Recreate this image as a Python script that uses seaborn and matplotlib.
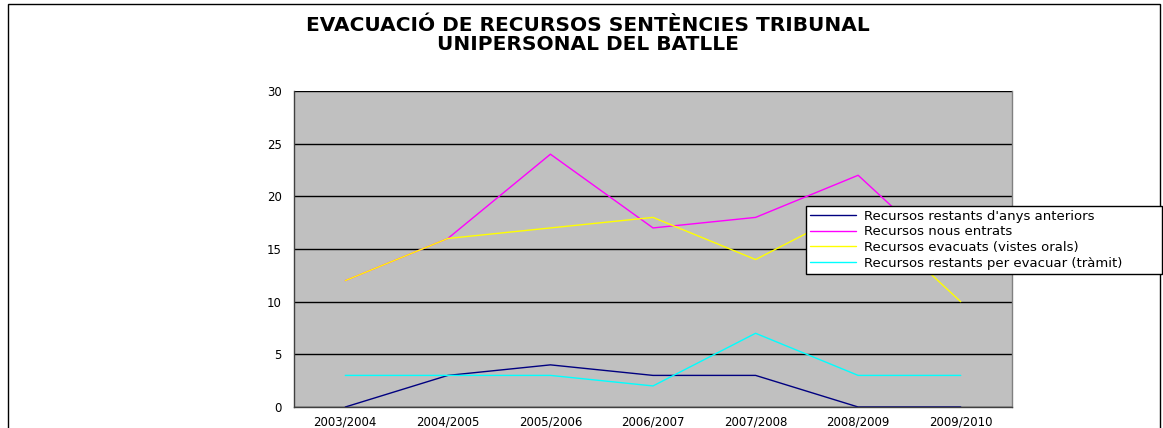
import pandas as pd
import matplotlib.pyplot as plt
import seaborn as sns

years = ["2003/2004", "2004/2005", "2005/2006", "2006/2007", "2007/2008", "2008/2009", "2009/2010"]
restants_anteriors = [0, 3, 4, 3, 3, 0, 0]
nous_entrats = [12, 16, 24, 17, 18, 22, 13]
evacuats = [12, 16, 17, 18, 14, 19, 10]
restants_tramit = [3, 3, 3, 2, 7, 3, 3]

series_names = [
    "Recursos restants d'anys anteriors",
    "Recursos nous entrats",
    "Recursos evacuats (vistes orals)",
    "Recursos restants per evacuar (tràmit)",
]
colors = ["#000080", "#FF00FF", "#FFFF00", "#00FFFF"]


def main():
    frames = []
    for name, vals in zip(series_names, [restants_anteriors, nous_entrats, evacuats, restants_tramit]):
        frames.append(pd.DataFrame({"any": years, "valor": vals, "serie": name}))
    df = pd.concat(frames, ignore_index=True)

    sns.set_style("white")
    plt.rcParams["font.family"] = ["DejaVu Sans"]
    plt.rcParams["text.color"] = "black"
    plt.rcParams["xtick.color"] = "black"
    plt.rcParams["ytick.color"] = "black"

    fig = plt.figure(figsize=(11.63, 4.28), dpi=100)
    ax = fig.add_axes([294 / 1163, 1 - 407 / 428, (1012 - 294) / 1163, (407 - 91) / 428])
    ax.set_facecolor("#C0C0C0")

    sns.lineplot(data=df, x="any", y="valor", hue="serie", palette=colors,
                 sort=False, linewidth=1, ax=ax, legend=True)

    ax.set_xlim(-0.5, len(years) - 0.5)
    ax.set_ylim(0, 30)
    ax.set_yticks(range(0, 31, 5))
    ax.set_xticks(range(len(years)))
    ax.set_xticklabels(years, fontsize=8.5)
    ax.set_xticks([i - 0.5 for i in range(len(years) + 1)], minor=True)
    ax.tick_params(axis="x", which="major", length=0, pad=6)
    ax.tick_params(axis="x", which="minor", length=4, width=1, color="#404040", direction="out")
    ax.tick_params(axis="y", length=5, width=1, color="#404040", direction="out", labelsize=8.5, pad=4)
    ax.yaxis.grid(True, color="black", linewidth=1)
    ax.set_axisbelow(True)
    ax.set_xlabel("")
    ax.set_ylabel("")
    for side in ["left", "bottom"]:
        ax.spines[side].set_color("#404040")
        ax.spines[side].set_linewidth(1)
    ax.spines["top"].set_visible(False)
    ax.spines["right"].set_color("#808080")
    ax.spines["right"].set_linewidth(1)

    handles, labels = ax.get_legend_handles_labels()
    leg = fig.legend(handles, labels, loc="upper left",
                     bbox_to_anchor=(806 / 1163, 1 - 210 / 428, (1162 - 806) / 1163, 0.01),
                     mode="expand", fontsize=9.5, frameon=True, fancybox=False, framealpha=1,
                     edgecolor="black", handlelength=3.5, borderpad=0.3,
                     labelspacing=0.2, handletextpad=0.6, borderaxespad=0)
    leg.get_frame().set_linewidth(1)
    ax.get_legend().remove()

    fig.text(588 / 1163, 1 - 35 / 428, "EVACUACIÓ DE RECURSOS SENTÈNCIES TRIBUNAL\nUNIPERSONAL DEL BATLLE",
             ha="center", va="center", fontsize=14.5, fontweight="bold", linespacing=0.98)

    # outer frame of the chart area
    border = plt.Rectangle((8 / 1163, -0.1), (1160 - 8) / 1163, 1.1 - 4 / 428,
                           transform=fig.transFigure, fill=False, edgecolor="black", linewidth=1)
    fig.patches.append(border)

    fig.savefig("out.png", dpi=100)


if __name__ == "__main__":
    main()
